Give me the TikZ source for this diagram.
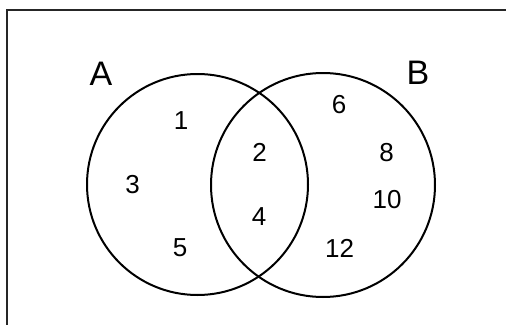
\documentclass[tikz,border=0pt]{standalone}
\usepackage{fontspec}
\setmainfont{Liberation Sans}
\begin{document}
\begin{tikzpicture}[x=1pt,y=-1pt,
  setcircle/.style={circle,draw=black,line width=2pt,inner sep=0pt,minimum size=#1},
  setlabel/.style={font=\fontsize{34}{34}\selectfont,inner sep=0pt,anchor=center},
  elem/.style={font=\fontsize{26}{26}\selectfont,inner sep=0pt,anchor=center}]
\useasboundingbox (0,0) rectangle (506,324);
\fill[white] (0,0) rectangle (506,324);
\draw[line width=2.3pt,black!85] (7,330) -- (7,10.3) -- (515,10.3);
\node[setcircle=221pt] (A) at (197.5,184.5) {};
\node[setcircle=224pt] (B) at (323,185) {};
\node[setlabel] (lA) at (101,74) {A};
\node[setlabel] (lB) at (418,72.5) {B};
\node[elem] (e1) at (181,121) {1};
\node[elem] (e3) at (132.5,184.5) {3};
\node[elem] (e5) at (180,247.5) {5};
\node[elem] (e2) at (259.5,152.5) {2};
\node[elem] (e4) at (259,216.5) {4};
\node[elem] (e6) at (339,104.5) {6};
\node[elem] (e8) at (386.5,152.5) {8};
\node[elem] (e10) at (387,200) {10};
\node[elem] (e12) at (339.5,248) {12};
\end{tikzpicture}
\end{document}
